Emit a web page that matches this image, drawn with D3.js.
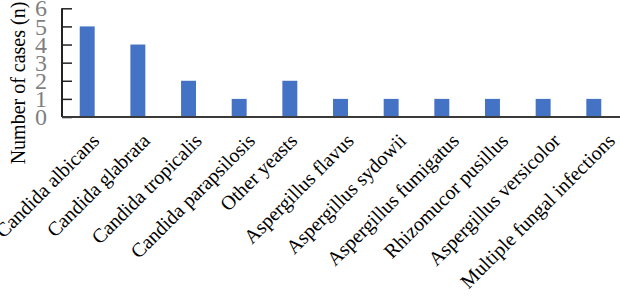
<!DOCTYPE html>
<html><head><meta charset="utf-8">
<script src="https://cdn.jsdelivr.net/npm/d3@7"></script>
<style>body{margin:0;background:#fff}svg{display:block}</style>
</head><body>
<svg id="c" width="620" height="296"></svg>
<script>
const categories = ["Candida albicans","Candida glabrata","Candida tropicalis","Candida parapsilosis","Other yeasts","Aspergillus flavus","Aspergillus sydowii","Aspergillus fumigatus","Rhizomucor pusillus","Aspergillus versicolor","Multiple fungal infections"];
const cases = [5,4,2,1,2,1,1,1,1,1,1];
const yTicks = [0,1,2,3,4,5,6];
const yTitle = "Number of cases (n)";

const svg = d3.select("#c");
const x0 = 62, x1 = 619, yBase = 117, yTop = 8.3;
const x = d3.scaleBand().domain(categories).range([x0, x1]).paddingInner(0.705).paddingOuter(0.35);
const y = d3.scaleLinear().domain([0,6]).range([yBase, yTop]);
const serif = "Liberation Serif, Times New Roman, serif";

// bars
svg.append("g").selectAll("rect").data(categories).join("rect")
  .attr("x", d => x(d)).attr("width", x.bandwidth())
  .attr("y", (d,i) => y(cases[i])).attr("height", (d,i) => y(0) - y(cases[i]))
  .attr("fill", "#4472C4");

// y axis
const ya = svg.append("g").attr("transform", `translate(${x0},0)`)
  .call(d3.axisRight(y).tickValues(yTicks).tickSize(10).tickFormat(""));
ya.select(".domain").attr("stroke", "#222").attr("stroke-width", 2).attr("d", `M0,${yTop}V${yBase}`);
ya.selectAll(".tick line").attr("stroke", "#222").attr("stroke-width", 1.5);
svg.append("g").selectAll("text").data(yTicks).join("text")
  .attr("x", 47).attr("y", d => y(d)).attr("dy", "0.34em")
  .attr("text-anchor", "end").style("font-family", serif).attr("font-size", 24)
  .attr("fill", "#7f7f7f").text(d => d);

// x axis
const xa = svg.append("g").attr("transform", `translate(0,${yBase})`)
  .call(d3.axisBottom(x).tickSize(0).tickFormat(""));
xa.select(".domain").attr("stroke", "#3a3a3a").attr("stroke-width", 2).attr("d", `M${x0},0H620`);

const cx = d => x(d) + x.bandwidth()/2;
const lbl = svg.append("g").selectAll("text").data(categories).join("text")
  .attr("text-anchor", "end").style("font-family", serif).attr("font-size", 20)
  .attr("fill", "#000").text(d => d);
lbl.attr("transform", function(d){
  const len = this.getComputedTextLength();
  const h = 14 + 0.125*(len - 142);
  return `translate(${cx(d) + h},142) rotate(-45)`;
});

// y title
svg.append("text").attr("transform", "translate(25,83) rotate(-90)")
  .attr("text-anchor", "middle").style("font-family", serif).attr("font-size", 20)
  .attr("fill", "#000").text(yTitle);
</script>
</body></html>
